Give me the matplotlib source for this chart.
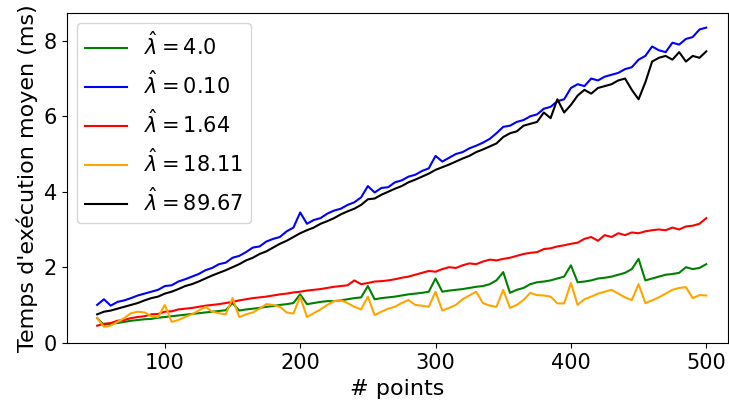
import numpy as np
import matplotlib
matplotlib.use("Agg")
import matplotlib.pyplot as plt

# number of points (step of 5)
n_points = list(range(50, 505, 5))

lam_4_0 = [0.65, 0.47, 0.50, 0.52, 0.55, 0.58, 0.60, 0.62, 0.63, 0.66,
           0.68, 0.70, 0.72, 0.74, 0.76, 0.78, 0.80, 0.82, 0.84, 0.86,
           1.05, 0.85, 0.88, 0.90, 0.92, 0.95, 0.97, 1.00, 1.02, 1.05,
           1.28, 1.02, 1.05, 1.08, 1.10, 1.10, 1.12, 1.15, 1.18, 1.20,
           1.50, 1.15, 1.18, 1.20, 1.22, 1.25, 1.28, 1.30, 1.32, 1.35,
           1.70, 1.35, 1.38, 1.40, 1.42, 1.45, 1.48, 1.50, 1.55, 1.65,
           1.87, 1.32, 1.40, 1.45, 1.55, 1.60, 1.62, 1.65, 1.70, 1.75,
           2.05, 1.60, 1.62, 1.65, 1.70, 1.72, 1.75, 1.80, 1.85, 1.95,
           2.22, 1.65, 1.70, 1.75, 1.80, 1.82, 1.85, 2.00, 1.95, 1.98,
           2.08]

lam_0_10 = [1.00, 1.15, 0.98, 1.08, 1.12, 1.18, 1.25, 1.30, 1.35, 1.40,
            1.50, 1.52, 1.62, 1.68, 1.75, 1.82, 1.92, 1.98, 2.08, 2.12,
            2.25, 2.30, 2.40, 2.52, 2.55, 2.68, 2.75, 2.80, 2.95, 3.05,
            3.45, 3.15, 3.25, 3.30, 3.42, 3.50, 3.55, 3.65, 3.72, 3.85,
            4.15, 3.98, 4.10, 4.12, 4.25, 4.30, 4.40, 4.45, 4.55, 4.62,
            4.95, 4.80, 4.90, 5.00, 5.05, 5.15, 5.22, 5.30, 5.40, 5.55,
            5.72, 5.75, 5.85, 5.90, 6.00, 6.05, 6.20, 6.25, 6.40, 6.45,
            6.75, 6.85, 6.80, 7.00, 6.95, 7.05, 7.10, 7.15, 7.25, 7.30,
            7.50, 7.60, 7.85, 7.75, 7.70, 7.95, 7.90, 8.05, 8.10, 8.30,
            8.35]

lam_1_64 = [0.45, 0.50, 0.52, 0.58, 0.60, 0.65, 0.68, 0.70, 0.75, 0.76,
            0.82, 0.83, 0.88, 0.90, 0.92, 0.95, 0.98, 1.00, 1.02, 1.05,
            1.08, 1.12, 1.15, 1.18, 1.20, 1.22, 1.25, 1.28, 1.30, 1.33,
            1.35, 1.38, 1.40, 1.42, 1.45, 1.48, 1.50, 1.52, 1.65, 1.55,
            1.58, 1.62, 1.63, 1.65, 1.68, 1.72, 1.75, 1.80, 1.85, 1.90,
            1.88, 1.95, 2.00, 1.98, 2.05, 2.10, 2.08, 2.15, 2.20, 2.18,
            2.22, 2.25, 2.30, 2.35, 2.38, 2.40, 2.48, 2.50, 2.55, 2.58,
            2.62, 2.65, 2.75, 2.80, 2.70, 2.85, 2.80, 2.90, 2.85, 2.92,
            2.90, 2.95, 2.98, 3.00, 2.98, 3.05, 3.00, 3.08, 3.10, 3.15,
            3.30]

lam_18_11 = [0.65, 0.42, 0.45, 0.55, 0.65, 0.78, 0.82, 0.80, 0.70, 0.68,
             1.00, 0.55, 0.60, 0.68, 0.75, 0.85, 0.95, 0.82, 0.78, 0.75,
             1.18, 0.68, 0.75, 0.80, 0.90, 1.02, 1.00, 0.95, 0.80, 0.77,
             1.22, 0.68, 0.78, 0.88, 1.00, 1.10, 1.12, 1.05, 0.95, 0.88,
             1.22, 0.73, 0.82, 0.90, 0.95, 1.05, 1.13, 1.00, 0.98, 0.95,
             1.35, 0.85, 0.92, 1.00, 1.15, 1.25, 1.35, 1.05, 0.98, 0.95,
             1.40, 0.92, 1.00, 1.13, 1.32, 1.26, 1.25, 1.22, 1.04, 1.04,
             1.58, 1.00, 1.15, 1.22, 1.30, 1.35, 1.40, 1.30, 1.20, 1.13,
             1.55, 1.05, 1.12, 1.20, 1.30, 1.40, 1.45, 1.47, 1.18, 1.26,
             1.25]

lam_89_67 = [0.75, 0.82, 0.85, 0.90, 0.95, 1.00, 1.05, 1.12, 1.18, 1.22,
             1.30, 1.35, 1.42, 1.50, 1.55, 1.62, 1.70, 1.78, 1.85, 1.92,
             2.00, 2.08, 2.18, 2.25, 2.35, 2.42, 2.52, 2.62, 2.70, 2.80,
             2.90, 2.98, 3.05, 3.15, 3.22, 3.30, 3.40, 3.48, 3.55, 3.65,
             3.80, 3.82, 3.92, 4.00, 4.08, 4.15, 4.25, 4.32, 4.40, 4.48,
             4.58, 4.65, 4.72, 4.80, 4.88, 4.95, 5.05, 5.12, 5.20, 5.28,
             5.45, 5.55, 5.60, 5.75, 5.80, 5.85, 6.10, 5.95, 6.45, 6.10,
             6.30, 6.55, 6.70, 6.60, 6.75, 6.80, 6.85, 6.95, 7.00, 6.70,
             6.45, 6.90, 7.45, 7.55, 7.60, 7.50, 7.70, 7.45, 7.60, 7.55,
             7.72]

series = [
    (lam_4_0, 'green', r'$\hat{\lambda} = 4.0$'),
    (lam_0_10, 'blue', r'$\hat{\lambda} = 0.10$'),
    (lam_1_64, 'red', r'$\hat{\lambda} = 1.64$'),
    (lam_18_11, 'orange', r'$\hat{\lambda} = 18.11$'),
    (lam_89_67, 'black', r'$\hat{\lambda} = 89.67$'),
]

plt.rcParams['font.size'] = 15

fig = plt.figure(figsize=(7.29, 4.04), dpi=100)
ax = fig.add_axes([0.0915, 0.150, 0.907, 0.819])

for values, color, label in series:
    ax.plot(n_points, values, color=color, label=label, linewidth=1.5)

ax.set_xlim(27.5, 516)
ax.set_ylim(-0.02, 8.75)
ax.set_xticks([100, 200, 300, 400, 500])
ax.set_yticks([0, 2, 4, 6, 8])
ax.tick_params(labelsize=15)
ax.set_xlabel('# points', fontsize=16)
ax.set_ylabel("Temps d'exécution moyen (ms)", fontsize=16)
ax.legend(loc='upper left', fontsize=15, labelspacing=0.55)

fig.savefig('out.png', dpi=100)
